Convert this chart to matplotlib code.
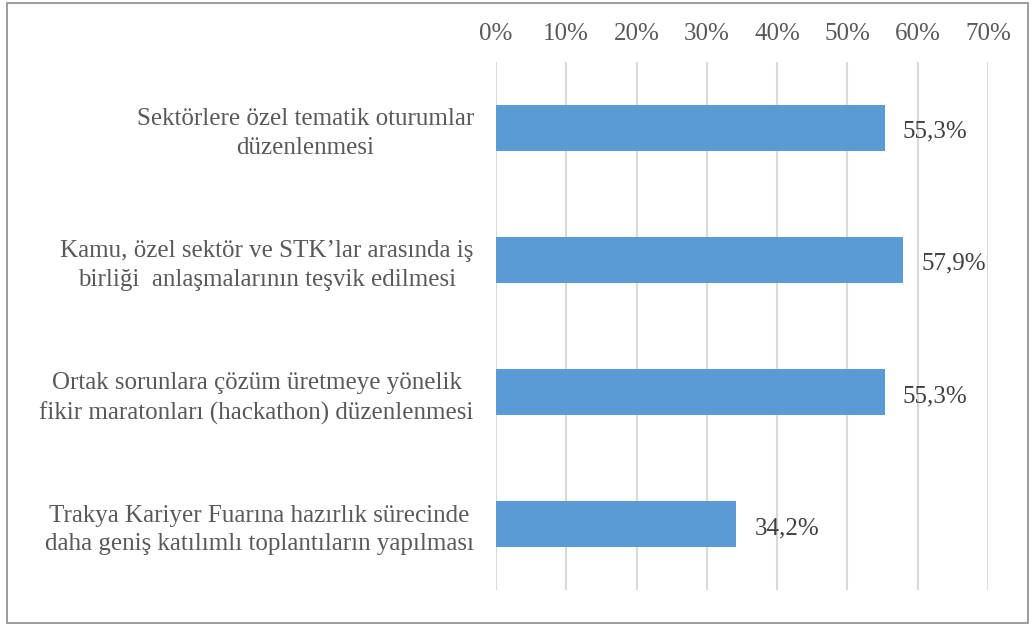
import matplotlib
matplotlib.use("Agg")
import matplotlib.pyplot as plt
from matplotlib.patches import Rectangle

categories = [
    "Sektörlere özel tematik oturumlar\ndüzenlenmesi",
    "Kamu, özel sektör ve STK’lar arasında iş\nbirliği  anlaşmalarının teşvik edilmesi",
    "Ortak sorunlara çözüm üretmeye yönelik\nfikir maratonları (hackathon) düzenlenmesi",
    "Trakya Kariyer Fuarına hazırlık sürecinde\ndaha geniş katılımlı toplantıların yapılması",
]
values = [55.3, 57.9, 55.3, 34.2]
value_labels = ["55,3%", "57,9%", "55,3%", "34,2%"]
ticks = [0, 10, 20, 30, 40, 50, 60, 70]

plt.rcParams["font.family"] = ["Liberation Serif", "DejaVu Serif"]

fig = plt.figure(figsize=(10.32, 6.26), dpi=100)
ax = fig.add_axes([0.4806, 0.0575, 0.4768, 0.8435])

ypos = list(range(len(categories)))
ax.barh(ypos, values, height=0.35, color="#5B9BD5", zorder=3)
ax.set_ylim(len(categories) - 0.5, -0.5)
ax.set_xlim(0, 70)

ax.set_xticks(ticks)
ax.set_xticklabels([f"{t}%" for t in ticks], fontsize=18, color="#595959")
ax.xaxis.tick_top()
ax.tick_params(axis="x", length=0, pad=12)
ax.set_yticks(ypos)
ax.set_yticklabels(categories, fontsize=18, color="#595959", ha="right",
                   multialignment="center", linespacing=1.4)
ax.tick_params(axis="y", length=0, pad=16)

ax.grid(axis="x", color="#D9D9D9", linewidth=1.5, zorder=0)
for s in ax.spines.values():
    s.set_visible(False)

for y, v, lab in zip(ypos, values, value_labels):
    ax.text(v + 2.6, y + 0.03, lab, va="center", ha="left", fontsize=18, color="#404040")

fig.patches.append(Rectangle((0.007, 0.004), 0.989, 0.992, transform=fig.transFigure,
                             fill=False, edgecolor="#8C8C8C", linewidth=1.2))

fig.savefig("out.png", dpi=100)
